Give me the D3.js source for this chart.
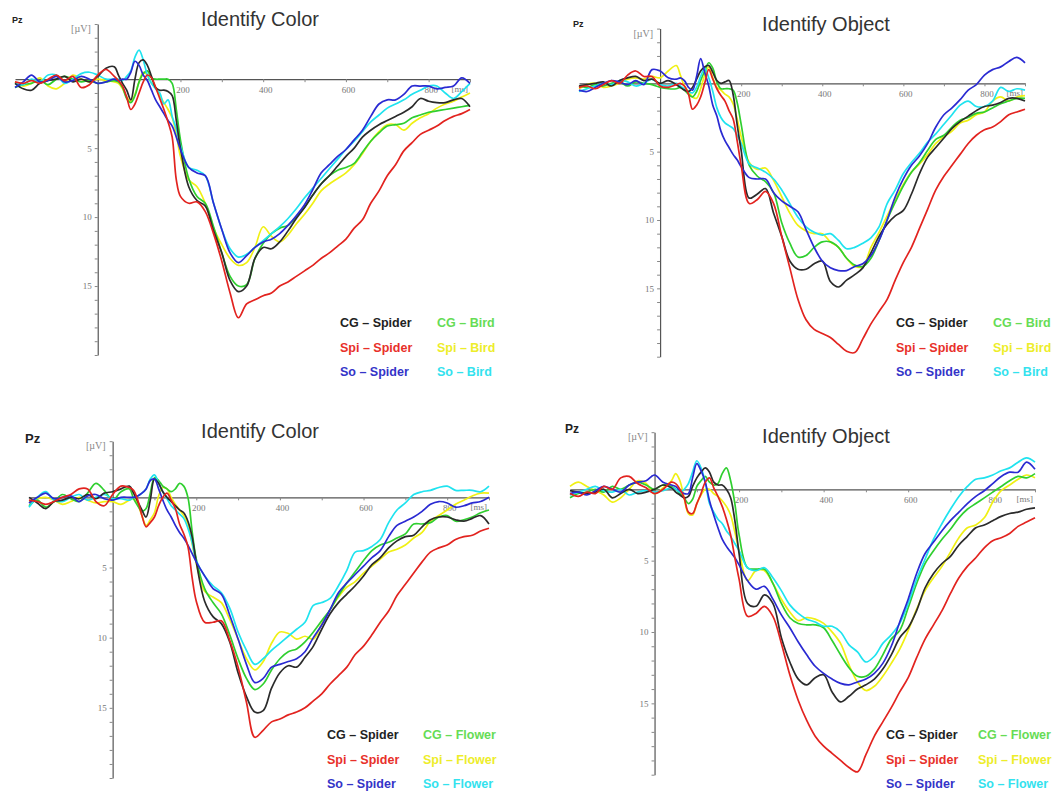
<!DOCTYPE html>
<html>
<head>
<meta charset="utf-8">
<script src="https://cdn.jsdelivr.net/npm/d3@7"></script>
<style>
  body { margin: 0; background: #fff; }
  svg { display: block; font-family: "Liberation Sans", Arial, sans-serif; }
</style>
</head>
<body>
<svg id="chart" width="1059" height="791"></svg>
<script>
// sample times in ms (denser around the early components)
const times = [-200,-180,-160,-140,-120,-100,-80,-60,-40,-20,0,20,40,
  50,60,70,80,90,100,110,120,130,140,150,160,170,180,190,200,
  220,240,260,280,300,320,340,360,380,400,420,440,460,480,500,520,540,560,580,600,
  620,640,660,680,700,720,740,760,780,800,820,840,860,880,900];

const spiderLabels = ['CG – Spider', 'Spi – Spider', 'So – Spider'];
const birdLabels = ['CG – Bird', 'Spi – Bird', 'So – Bird'];
const flowerLabels = ['CG – Flower', 'Spi – Flower', 'So – Flower'];
const yTickLabels = [5, 10, 15];
const xTickLabels = [200, 400, 600, 800];

// Identify Color, spider vs bird (µV)
const colorBirdCGSpider = [0.3,0.7,0.8,0.3,0.1,0.0,-0.2,0.2,0.0,0.2,-0.2,-0.8,-0.9,
  -0.3,0.3,0.8,1.5,0.0,-1.2,-1.4,-1.0,-0.2,0.6,0.8,0.8,0.9,1.2,3.0,5.0,
  7.8,8.8,9.2,11.0,12.6,14.6,15.4,15.0,13.0,12.2,12.3,11.8,11.0,10.1,9.3,8.4,7.6,7.0,6.3,5.6,
  5.0,4.2,3.7,3.3,3.0,2.7,2.4,2.0,1.4,1.6,1.7,1.7,1.5,1.4,2.0];
const colorBirdSpiSpider = [0.2,0.3,0.1,0.3,0.0,-0.3,0.1,-0.2,0.6,0.4,-0.3,-0.7,-0.2,
  0.1,0.5,1.3,2.2,1.8,1.0,0.2,-0.3,-0.1,0.6,1.4,2.2,3.1,4.2,7.3,8.5,
  9.0,8.9,9.6,11.2,13.2,15.5,17.3,16.3,16.0,15.7,15.5,15.0,14.7,14.3,13.9,13.5,13.0,12.6,12.1,11.6,
  10.8,10.2,9.0,8.1,7.0,6.2,5.2,4.6,4.0,3.7,3.4,3.0,2.7,2.5,2.2];
const colorBirdSoSpider = [0.6,0.2,-0.3,0.2,0.1,-0.2,0.2,0.1,-0.2,0.0,0.3,0.2,0.0,
  0.1,0.0,0.0,-0.5,-1.3,-1.0,-0.3,0.1,0.8,1.5,2.0,2.5,3.0,3.4,4.2,5.1,
  6.4,6.8,7.0,9.0,10.9,12.6,13.3,12.8,12.2,11.8,11.6,11.2,10.6,9.9,9.1,8.0,6.8,6.2,5.6,5.1,
  4.4,3.7,2.7,1.8,1.5,1.5,1.1,0.5,0.5,0.5,0.7,0.6,0.5,-0.1,0.3];
const colorBirdCGBird = [0.6,0.4,0.3,0.1,0.4,0.0,-0.2,0.0,0.2,0.1,0.3,0.2,0.1,
  0.2,0.6,1.4,1.7,1.2,0.2,-0.4,-0.6,-0.1,0.0,0.0,0.0,0.0,0.3,2.2,4.4,
  7.2,8.5,9.0,10.7,12.6,14.3,15.0,14.9,13.0,11.9,11.2,10.8,10.6,10.0,9.3,8.4,7.6,7.0,6.6,6.4,
  6.1,5.3,4.5,3.9,3.4,3.3,3.2,2.8,2.6,2.4,2.3,2.2,2.1,2.0,1.9];
const colorBirdSpiBird = [0.2,0.5,0.3,-0.1,0.5,0.7,0.3,-0.3,0.0,0.2,0.0,0.1,0.2,
  0.3,0.7,1.3,1.6,1.1,0.2,-0.5,-0.3,0.3,0.6,1.2,1.7,2.2,2.8,4.0,5.6,
  7.3,7.8,9.0,10.8,12.0,13.0,13.5,13.3,12.2,10.7,11.4,11.8,11.3,10.5,9.8,9.0,8.1,7.6,7.2,6.8,
  6.2,5.4,4.5,3.8,3.3,3.3,3.7,3.2,2.8,2.5,2.1,1.8,1.6,1.3,1.0];
const colorBirdSoBird = [0.3,0.4,0.0,0.2,-0.3,-0.3,0.3,0.0,-0.4,-0.5,-0.3,0.0,0.0,
  0.0,0.1,-0.2,-0.6,-1.6,-2.1,-1.4,-0.3,0.3,0.7,1.0,1.8,1.5,2.7,3.6,4.8,
  6.4,6.6,7.0,9.0,10.9,12.3,12.9,12.7,12.2,11.7,11.2,10.7,10.1,9.4,8.6,7.9,7.2,6.5,5.8,5.1,
  4.5,3.8,3.1,2.6,2.1,1.8,1.5,1.1,0.8,0.5,0.5,1.0,1.4,0.9,0.3];

// Identify Object, spider vs bird
const objectBirdCGSpider = [0.2,0.1,0.0,-0.1,0.2,-0.2,-0.4,-0.5,-0.2,-0.3,0.0,-0.2,0.1,
  0.3,0.5,0.6,0.3,-0.3,-0.9,-1.2,-1.3,-0.8,-0.2,0.0,-0.1,-0.2,0.8,3.0,4.9,
  8.4,8.1,7.7,9.5,11.2,13.0,13.6,13.6,13.2,13.0,14.5,14.9,14.4,14.0,13.5,12.4,11.2,10.3,9.7,9.3,
  8.1,6.6,5.4,4.7,4.0,3.3,2.8,2.4,2.0,1.7,1.6,1.4,1.1,1.1,1.3];
const objectBirdSpiSpider = [0.3,0.2,0.4,0.1,-0.2,0.0,-0.6,-0.9,-0.5,-0.5,0.2,0.3,0.1,
  0.0,0.2,0.8,1.9,1.6,1.0,0.0,-1.0,-0.3,0.4,0.9,1.3,2.0,2.6,4.2,6.0,
  8.8,8.5,7.9,8.8,11.2,13.5,15.8,17.3,18.0,18.3,18.6,19.1,19.6,19.7,18.7,17.6,16.7,15.8,14.4,13.1,
  12.0,10.6,9.2,7.8,6.8,6.0,5.2,4.4,3.8,3.4,3.2,2.8,2.3,2.1,1.9];
const objectBirdSoSpider = [0.5,0.6,0.3,0.0,-0.2,-0.1,0.1,-0.2,0.1,-1.0,-0.9,-0.4,-0.3,
  -0.4,-0.2,0.3,0.5,-0.5,-1.8,-0.8,0.2,1.6,2.4,3.5,4.2,4.7,5.2,5.6,6.1,
  6.9,7.0,7.0,8.0,8.6,9.0,9.4,10.7,12.0,13.0,13.5,13.7,13.7,13.4,13.2,12.6,11.5,10.0,8.3,7.0,
  6.0,5.3,4.4,3.2,2.3,1.8,1.2,0.5,0.1,-0.6,-1.0,-1.2,-1.6,-1.9,-1.5];
const objectBirdCGBird = [0.2,0.3,0.1,0.2,0.0,-0.1,0.2,-0.1,0.0,0.1,0.3,0.4,0.4,
  0.3,0.5,0.8,1.0,0.6,-0.2,-0.9,-1.5,-1.1,-0.1,0.4,0.4,0.4,0.5,1.4,3.0,
  6.0,6.8,7.2,8.0,10.2,11.7,12.7,12.6,12.0,11.6,11.6,12.0,12.8,13.3,13.4,12.8,11.5,10.0,8.7,7.5,
  6.5,5.8,4.9,4.1,3.8,3.2,2.7,2.5,2.2,2.1,1.8,1.5,1.3,1.1,1.1];
const objectBirdSpiBird = [0.4,0.1,0.0,0.3,0.2,0.0,-0.3,-0.4,-0.3,-0.5,-0.4,-0.9,-1.3,
  -0.6,0.2,0.6,1.0,1.1,0.4,-0.6,-1.2,-0.4,0.3,0.5,0.8,1.0,1.5,2.6,3.9,
  5.8,6.3,6.2,7.1,8.3,9.5,10.4,10.8,11.0,11.0,11.6,12.0,12.8,13.4,13.4,12.0,10.9,9.7,8.5,7.4,
  6.5,5.9,5.2,4.4,3.9,3.5,2.9,2.7,2.3,2.1,1.3,1.0,1.3,1.0,0.9];
const objectBirdSoBird = [0.6,0.4,0.2,0.0,0.1,-0.2,-0.1,0.2,0.0,-0.3,0.1,0.2,0.0,
  0.2,0.4,0.6,0.7,0.3,-0.5,-1.1,-0.4,0.6,1.8,2.5,2.9,3.1,3.3,3.8,4.4,
  5.9,6.2,6.5,7.0,7.8,8.8,9.8,10.5,10.9,11.1,11.0,11.5,12.1,12.0,11.7,11.3,10.5,8.8,7.8,6.6,
  5.8,5.1,4.3,3.7,3.0,2.3,1.6,1.3,1.7,1.7,1.3,0.3,0.6,0.4,0.5];

// Identify Color, spider vs flower
const colorFlowerCGSpider = [0.0,0.4,0.8,0.3,0.2,0.0,0.1,-0.2,0.1,-0.3,-0.4,-0.6,-0.8,
  -0.3,0.3,0.9,1.4,0.2,-1.3,-1.0,-0.4,0.0,0.3,0.6,0.9,1.1,1.7,2.8,4.6,
  7.4,8.5,9.0,10.3,12.5,14.2,15.3,15.2,13.6,12.5,12.0,12.1,11.4,10.6,9.4,8.3,7.5,6.9,6.3,5.6,
  4.8,4.3,3.6,3.1,2.8,2.7,2.1,1.6,1.4,1.4,1.6,1.7,1.5,1.3,1.9];
const colorFlowerSpiSpider = [0.2,0.3,0.5,0.3,0.0,-0.2,-0.6,-0.6,0.3,0.6,-0.2,-0.8,-0.7,
  -0.5,0.2,1.3,2.1,1.8,1.4,0.6,0.0,-0.3,0.2,0.8,1.9,2.6,3.5,5.7,7.4,
  8.9,8.9,8.8,10.2,12.1,14.6,17.1,16.6,16.0,15.8,15.5,15.3,15.0,14.5,14.0,13.3,12.7,12.1,11.2,10.6,
  9.8,8.9,8.1,7.0,6.2,5.4,4.6,3.9,3.6,3.4,3.0,2.8,2.7,2.4,2.2];
const colorFlowerSoSpider = [0.4,0.0,-0.3,0.1,0.0,-0.1,0.3,-0.1,-0.2,0.1,0.2,0.0,0.0,
  0.0,-0.1,-0.3,-0.6,-1.2,-1.3,-0.6,0.2,0.9,1.4,2.0,2.5,2.9,3.4,4.0,4.6,
  5.6,6.5,6.9,8.4,10.1,11.9,13.2,12.9,12.1,11.9,11.7,11.5,11.0,10.0,9.1,8.0,6.8,6.1,5.5,4.9,
  4.3,3.8,2.8,2.0,1.7,1.4,1.0,0.5,0.3,0.4,0.7,0.6,0.4,0.3,0.0];
const colorFlowerCGFlower = [0.6,0.2,0.7,0.3,-0.2,0.1,0.3,-0.3,-1.0,-0.5,0.2,-0.4,-0.6,
  0.1,0.6,1.0,0.8,-0.3,-1.4,-1.2,-0.8,-0.6,-0.4,-0.6,-1.0,-0.8,0.0,2.4,4.4,
  6.5,7.5,8.3,9.8,11.5,12.9,13.7,13.3,12.3,11.5,11.0,10.8,10.3,9.6,8.8,8.0,7.0,6.1,5.3,4.5,
  3.8,3.4,3.2,2.9,2.6,1.9,1.9,1.8,1.4,1.3,1.7,1.6,1.4,1.1,0.9];
const colorFlowerSpiFlower = [0.3,0.1,0.0,0.2,0.5,0.3,0.0,0.2,0.4,0.3,0.3,0.5,0.2,
  0.1,0.5,1.3,2.0,1.6,1.1,-0.1,-0.7,-0.6,0.0,0.5,0.9,1.3,1.9,3.3,4.7,
  6.7,7.1,7.5,8.7,10.1,11.5,12.3,11.7,10.4,9.6,9.7,10.1,9.9,10.1,9.0,8.0,7.1,6.4,6.0,5.4,
  4.9,4.4,3.9,3.7,3.4,2.9,2.5,1.7,1.3,0.9,0.5,0.2,-0.1,-0.3,-0.3];
const colorFlowerSoFlower = [0.7,0.0,-0.4,0.2,0.3,0.0,-0.2,0.2,0.0,-0.2,0.1,0.1,0.2,
  0.0,-0.1,-0.3,-0.6,-1.3,-1.6,-1.0,-0.4,0.1,0.6,0.9,1.2,1.5,2.2,3.2,4.5,
  5.6,6.3,6.8,7.9,9.6,10.9,11.9,11.5,10.9,10.4,9.9,9.4,8.9,7.7,7.5,7.2,6.3,5.2,3.9,3.8,
  3.5,3.0,1.8,0.9,0.4,-0.2,-0.4,-0.5,-0.7,-0.8,-0.5,-0.5,-0.5,-0.4,-0.8];

// Identify Object, spider vs flower
const objectFlowerCGSpider = [0.1,0.2,0.3,0.2,0.0,0.6,0.3,0.0,0.3,0.2,0.0,-0.3,-0.1,
  0.2,0.4,0.6,0.5,-0.2,-0.8,-1.2,-1.5,-1.2,-0.5,-0.3,-0.3,0.0,0.6,2.2,4.5,
  8.0,8.2,7.4,8.0,10.4,12.1,13.3,13.7,13.2,13.0,14.2,14.9,14.5,14.0,13.7,13.3,12.6,11.6,10.4,9.7,
  8.5,6.9,5.9,5.2,4.7,3.9,3.3,2.7,2.5,2.2,1.9,1.7,1.6,1.4,1.3];
const objectFlowerSpiSpider = [0.3,0.5,0.2,0.3,-0.2,0.0,-0.8,-0.9,-0.4,-0.1,0.3,0.0,-0.5,
  -0.4,0.0,0.6,1.6,1.7,1.0,0.3,-0.5,-0.8,-0.1,0.5,1.2,2.1,3.2,4.8,6.3,
  8.9,8.7,8.2,8.9,10.8,13.0,14.8,16.2,17.3,18.0,18.5,19.0,19.5,19.8,18.6,17.3,16.3,15.3,14.2,13.2,
  11.8,10.5,9.5,8.5,7.3,6.2,5.4,4.8,4.1,3.6,3.4,3.1,2.6,2.3,2.0];
const objectFlowerSoSpider = [0.3,0.2,0.4,0.1,-0.2,0.0,0.2,-0.3,-0.5,-0.6,-1.0,-0.5,-0.3,
  -0.2,0.1,0.3,0.3,-0.8,-1.8,-1.3,-0.5,0.8,1.8,2.7,3.5,4.0,4.4,4.8,5.3,
  6.4,7.0,6.8,7.7,8.8,9.7,10.7,11.6,12.4,12.9,13.3,13.6,13.7,13.5,13.3,12.9,12.2,11.0,9.3,7.7,
  5.9,4.5,3.7,2.9,2.2,1.6,1.0,0.5,0.1,-0.4,-0.9,-1.2,-1.2,-1.9,-1.4];
const objectFlowerCGFlower = [0.6,0.3,0.2,0.0,0.2,-0.2,0.0,-0.3,-0.5,-0.3,0.0,-0.3,-0.2,
  0.0,0.3,0.6,1.0,0.7,-0.2,-0.6,-0.9,-0.5,-0.3,-0.4,-1.1,-1.5,-0.6,1.0,3.2,
  5.5,5.6,5.6,6.6,8.0,9.0,9.4,9.5,9.5,9.7,10.6,11.6,12.5,13.1,13.1,12.6,11.6,10.5,9.9,8.3,
  6.6,5.2,4.3,3.5,2.8,2.0,1.4,1.0,0.6,0.2,-0.2,-0.6,-0.9,-0.8,-1.1];
const objectFlowerSpiFlower = [-0.2,-0.5,-0.2,0.1,0.4,0.9,0.6,0.0,-0.6,-0.4,0.3,-0.1,-0.6,
  -1.1,-0.6,0.6,1.7,1.8,1.0,0.4,0.0,0.0,0.3,0.5,0.8,1.2,1.8,3.0,4.3,
  6.4,5.7,5.7,6.6,7.7,8.6,9.2,9.0,9.1,9.4,10.0,10.8,12.3,13.5,14.1,13.8,13.1,12.2,11.2,9.9,
  8.4,7.1,6.2,5.4,4.4,3.4,2.7,2.5,2.0,0.9,0.1,-0.3,-0.7,-1.0,-0.8];
const objectFlowerSoFlower = [0.4,0.2,0.0,-0.2,0.1,0.2,0.0,0.4,0.2,0.1,0.2,0.1,-0.1,
  0.0,0.2,0.0,-0.4,-1.2,-2.0,-1.5,-0.5,1.0,1.6,2.1,2.4,2.9,3.3,3.8,4.3,
  5.5,5.7,5.5,6.2,7.1,8.1,8.7,9.1,9.3,9.6,9.6,10.0,10.9,11.4,12.1,11.7,10.8,10.2,9.4,8.0,
  6.3,4.9,3.5,2.4,1.4,0.5,-0.2,-0.7,-0.8,-1.0,-1.3,-1.5,-1.9,-2.2,-1.9];

const lineColors = ['#2b2b2b', '#e2231f', '#2a2ad2', '#2fcf2f', '#f0f014', '#1fe3ef'];
const textColors = ['#222', '#e8302a', '#3434c8', '#66dc55', '#eded2a', '#33e2ee'];

const panels = [
  { title: 'Identify Color', labels: spiderLabels.concat(birdLabels),
    values: [colorBirdCGSpider, colorBirdSpiSpider, colorBirdSoSpider, colorBirdCGBird, colorBirdSpiBird, colorBirdSoBird],
    x: [15, 470], y: [24, 355], titleX: 260, titleY: 26, pz: [12, 23, 9], legend: [340, 437, 327] },
  { title: 'Identify Object', labels: spiderLabels.concat(birdLabels),
    values: [objectBirdCGSpider, objectBirdSpiSpider, objectBirdSoSpider, objectBirdCGBird, objectBirdSpiBird, objectBirdSoBird],
    x: [579, 1025], y: [28.6, 356.7], titleX: 826, titleY: 30.5, pz: [573, 27, 9], legend: [896, 993, 327] },
  { title: 'Identify Color', labels: spiderLabels.concat(flowerLabels),
    values: [colorFlowerCGSpider, colorFlowerSpiSpider, colorFlowerSoSpider, colorFlowerCGFlower, colorFlowerSpiFlower, colorFlowerSoFlower],
    x: [29, 489], y: [441.2, 778], titleX: 260, titleY: 438, pz: [25, 443, 13], legend: [327, 423, 739] },
  { title: 'Identify Object', labels: spiderLabels.concat(flowerLabels),
    values: [objectFlowerCGSpider, objectFlowerSpiSpider, objectFlowerSoSpider, objectFlowerCGFlower, objectFlowerSpiFlower, objectFlowerSoFlower],
    x: [570, 1035], y: [432.2, 774.7], titleX: 826, titleY: 443, pz: [565, 433, 12], legend: [886, 978, 739] }
];

const svg = d3.select('#chart');
svg.append('rect').attr('width', 1059).attr('height', 791).attr('fill', '#fff');

const drawOrder = [4, 3, 5, 0, 2, 1];

panels.forEach(p => {
  const g = svg.append('g');
  const x = d3.scaleLinear().domain([-200, 900]).range(p.x);
  const y = d3.scaleLinear().domain([-4, 20]).range(p.y);

  // axes
  const xAxis = d3.axisBottom(x)
    .tickValues(d3.range(100, 901, 100))
    .tickSize(3).tickSizeOuter(0)
    .tickFormat(d => xTickLabels.includes(d) ? d : '');
  const gx = g.append('g').attr('transform', `translate(0,${y(0)})`).call(xAxis);

  const yAxis = d3.axisLeft(y)
    .tickValues(d3.range(-4, 21, 1))
    .tickSize(3).tickSizeOuter(0).tickPadding(3)
    .tickFormat(d => yTickLabels.includes(d) ? d : '');
  const gy = g.append('g').attr('transform', `translate(${x(0)},0)`).call(yAxis);

  [gx, gy].forEach(a => {
    a.select('.domain').attr('stroke', '#555').attr('stroke-width', 1.2);
    a.selectAll('.tick line').attr('stroke', '#888');
    a.selectAll('.tick text').attr('fill', '#777')
      .style('font-family', '"Liberation Serif", "DejaVu Serif", serif').style('font-size', '9px');
  });
  gx.selectAll('.tick text').attr('dx', 2).attr('dy', '0.9em');

  g.append('text').attr('x', x(900) - 2).attr('y', y(0) + 13)
    .attr('text-anchor', 'end').attr('fill', '#777')
    .style('font-family', '"Liberation Serif", serif').style('font-size', '9px')
    .text('[ms]');
  g.append('text').attr('x', x(0) - 7).attr('y', y(-4) + 8)
    .attr('text-anchor', 'end').attr('fill', '#888')
    .style('font-family', '"Liberation Serif", serif').style('font-size', '10px')
    .text('[µV]');

  g.append('text').attr('x', p.pz[0]).attr('y', p.pz[1])
    .attr('font-weight', 'bold').attr('fill', '#222').style('font-size', p.pz[2] + 'px')
    .text('Pz');

  g.append('text').attr('x', p.titleX).attr('y', p.titleY)
    .attr('text-anchor', 'middle').attr('fill', '#333').style('font-size', '20px')
    .text(p.title);

  // waveforms
  const line = d3.line()
    .x((d, i) => x(times[i]))
    .y(d => y(d))
    .curve(d3.curveCatmullRom.alpha(0.5));

  drawOrder.forEach(k => {
    g.append('path')
      .attr('d', line(p.values[k]))
      .attr('fill', 'none')
      .attr('stroke', lineColors[k])
      .attr('stroke-width', 1.7)
      .attr('stroke-linejoin', 'round');
  });

  // legend: spider column then comparison column
  p.labels.forEach((lab, k) => {
    const col = k < 3 ? 0 : 1;
    const row = k % 3;
    g.append('text')
      .attr('x', p.legend[col])
      .attr('y', p.legend[2] + row * 24.5)
      .attr('fill', textColors[k])
      .attr('font-weight', 'bold')
      .style('font-size', '12.5px')
      .text(lab);
  });
});
</script>
</body>
</html>
